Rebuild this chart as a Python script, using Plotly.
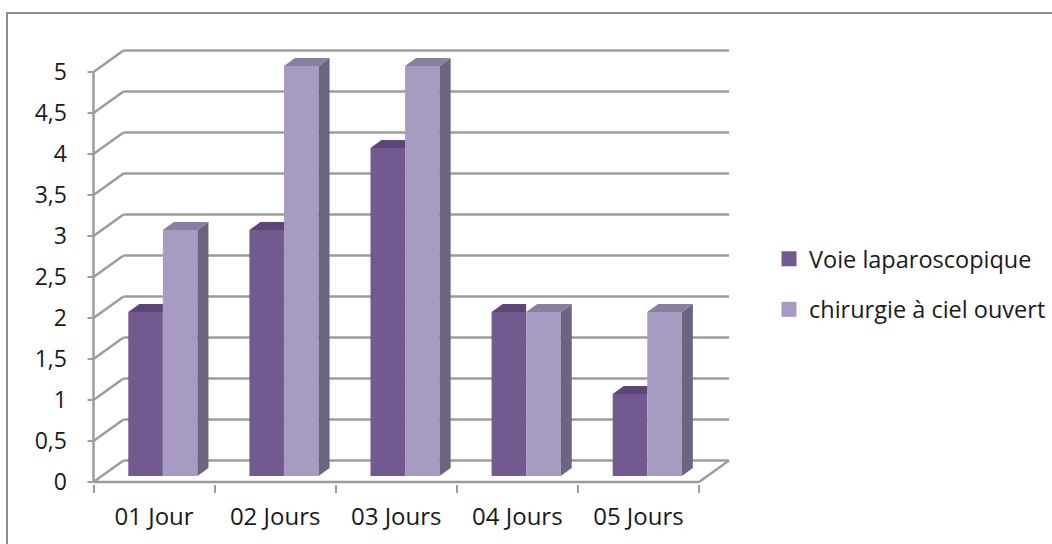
import plotly.graph_objects as go

# ---- data ----
categories = ["01 Jour", "02 Jours", "03 Jours", "04 Jours", "05 Jours"]
laparo = [2, 3, 4, 2, 1]
ciel_ouvert = [3, 5, 5, 2, 2]
series_names = ["Voie laparoscopique", "chirurgie à ciel ouvert"]
y_ticks = [0, 0.5, 1, 1.5, 2, 2.5, 3, 3.5, 4, 4.5, 5]

# ---- style / geometry constants ----
C_DARK = "#72598F"
C_DARK_TOP = "#5C4577"
C_DARK_SIDE = "#554169"
C_LIGHT = "#A89BC2"
C_LIGHT_TOP = "#887E9F"
C_LIGHT_SIDE = "#6D6580"
GRID = "#9C9C9C"
FONT = "Open Sans"
FS = 23
FS_X = 24
FS_LEG = 23.5

FIG_W, FIG_H = 1052, 544
PX_X = 121.1   # px per category
PX_Y = 82.0    # px per unit
AX_X, AX_Y = 93.5, 482.0     # pixel position of the front origin
L, R, T, B = 60, 780, 30, 484
x0 = -(AX_X - L) / PX_X
x1 = x0 + (R - L) / PX_X
y0 = -(B - AX_Y) / PX_Y
y1 = y0 + (B - T) / PX_Y
W_, H_ = R - L, B - T

WDX, WDY = 30 / PX_X, 21.5 / PX_Y       # back wall offset
BDX, BDY = 8.2 / PX_X, 6.0 / PX_Y       # bar front plane offset
DDX, DDY = 11 / PX_X, 8.0 / PX_Y        # bar depth
BW = 0.2855
BL = 34.8 / PX_X                        # left of first bar in category
TICK_X = 6 / PX_X

ymax = y_ticks[-1]
n = len(categories)

fig = go.Figure()

shapes = []
line_style = dict(color=GRID, width=2.5)
for v in y_ticks:
    shapes.append(dict(type="line", xref="x", yref="y", x0=0, y0=v, x1=WDX, y1=v + WDY,
                       line=line_style, layer="below"))
    shapes.append(dict(type="line", xref="x", yref="y", x0=WDX, y0=v + WDY, x1=n + WDX, y1=v + WDY,
                       line=line_style, layer="below"))
    shapes.append(dict(type="line", xref="x", yref="y", x0=-TICK_X, y0=v, x1=0, y1=v,
                       line=dict(color=GRID, width=2), layer="below"))
shapes.append(dict(type="line", xref="x", yref="y", x0=0, y0=0, x1=n, y1=0,
                   line=line_style, layer="below"))
shapes.append(dict(type="line", xref="x", yref="y", x0=n, y0=0, x1=n + WDX, y1=WDY,
                   line=line_style, layer="below"))
shapes.append(dict(type="line", xref="x", yref="y", x0=0, y0=0, x1=0, y1=ymax,
                   line=line_style, layer="below"))


def poly(pts):
    return "M" + " L".join(f"{a:.5f},{b:.5f}" for a, b in pts) + " Z"


xs_dark = [i + BL + BW / 2 for i in range(n)]
xs_light = [i + BL + BW * 1.5 for i in range(n)]

fig.add_trace(go.Bar(x=xs_dark, y=laparo, base=BDY, width=BW, marker=dict(color=C_DARK, line=dict(width=0)),
                     showlegend=False, hoverinfo="skip"))
fig.add_trace(go.Bar(x=xs_light, y=ciel_ouvert, base=BDY, width=BW, marker=dict(color=C_LIGHT, line=dict(width=0)),
                     showlegend=False, hoverinfo="skip"))

for i in range(n):
    d, l = laparo[i], ciel_ouvert[i]
    xl = i + BL
    xm = xl + BW
    xr = xm + BW
    td = BDY + d
    tl = BDY + l
    if l >= d:
        shapes.append(dict(type="path", xref="x", yref="y", layer="above", line=dict(width=0),
                           fillcolor=C_DARK_TOP,
                           path=poly([(xl, td), (xm, td), (xm, td + DDY), (xl + DDX, td + DDY)])))
    else:
        shapes.append(dict(type="path", xref="x", yref="y", layer="above", line=dict(width=0),
                           fillcolor=C_DARK_TOP,
                           path=poly([(xl, td), (xm, td), (xm + DDX, td + DDY), (xl + DDX, td + DDY)])))
        shapes.append(dict(type="path", xref="x", yref="y", layer="above", line=dict(width=0),
                           fillcolor=C_DARK_SIDE,
                           path=poly([(xm, tl), (xm, td), (xm + DDX, td + DDY), (xm + DDX, tl + DDY)])))
    shapes.append(dict(type="path", xref="x", yref="y", layer="above", line=dict(width=0),
                       fillcolor=C_LIGHT_SIDE,
                       path=poly([(xr, BDY), (xr, tl), (xr + DDX, tl + DDY), (xr + DDX, BDY + DDY)])))
    shapes.append(dict(type="path", xref="x", yref="y", layer="above", line=dict(width=0),
                       fillcolor=C_LIGHT_TOP,
                       path=poly([(xm, tl), (xr, tl), (xr + DDX, tl + DDY), (xm + DDX, tl + DDY)])))

# outer chart border (left/top visible)
shapes.append(dict(type="rect", xref="paper", yref="paper",
                   x0=(7 - L) / W_, y0=(B - 570) / H_, x1=(1070 - L) / W_, y1=(B - 13) / H_,
                   line=dict(color="#8C8C8C", width=2), fillcolor="rgba(0,0,0,0)", layer="below"))

for name, col in zip(series_names, [C_DARK, C_LIGHT]):
    fig.add_trace(go.Scatter(x=[None], y=[None], mode="markers", name=name, legendgroup=name,
                             marker=dict(symbol="square", size=15, color=col)))

fig.update_layout(
    template="none",
    width=FIG_W, height=FIG_H,
    margin=dict(l=L, r=FIG_W - R, t=T, b=FIG_H - B, autoexpand=False),
    paper_bgcolor="white", plot_bgcolor="white",
    separators=", ",
    barmode="overlay",
    shapes=shapes,
    font=dict(family=FONT, size=FS, color="#1A1A1A"),
    showlegend=True,
    legend=dict(x=(769 - L) / W_, xanchor="left", y=(B - 237) / H_, yanchor="top",
                tracegroupgap=17, font=dict(family=FONT, size=FS_LEG, color="#1A1A1A"),
                bgcolor="rgba(0,0,0,0)", borderwidth=0),
    xaxis=dict(range=[x0, x1], showgrid=False, zeroline=False, showline=False, automargin=False,
               tickmode="array", tickvals=[i + 0.5 for i in range(n)], ticktext=categories,
               ticks="", ticklabelstandoff=16, tickfont=dict(size=FS_X),
               minor=dict(ticks="outside", tick0=0, dtick=1, ticklen=8, tickwidth=2,
                          tickcolor=GRID, showgrid=False)),
    yaxis=dict(range=[y0, y1], showgrid=False, zeroline=False, showline=False, automargin=False,
               anchor="free", position=(AX_X - L) / W_,
               tickmode="array", tickvals=y_ticks,
               ticks="outside", ticklen=22, tickwidth=1, tickcolor="rgba(0,0,0,0)"),
)

fig.write_html("out.html", config={"displayModeBar": False},
               post_script="document.body.style.margin='0';document.body.style.overflow='hidden';")
